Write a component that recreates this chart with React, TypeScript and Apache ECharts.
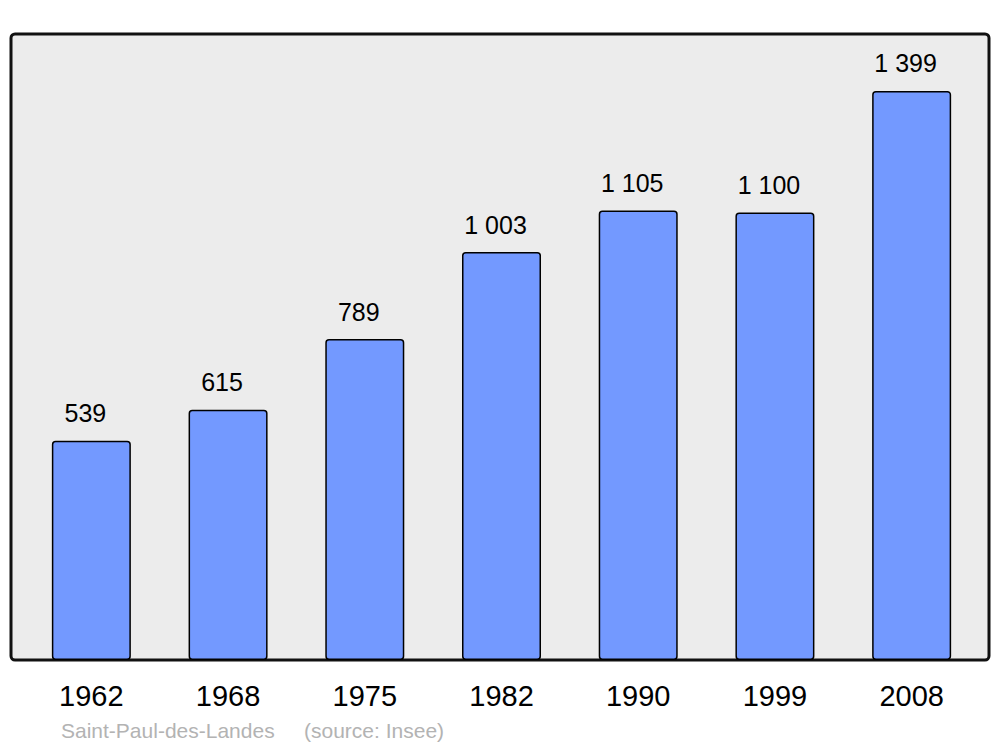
import React, { useEffect, useRef } from "react";
import * as echarts from "echarts";

const years = ["1962", "1968", "1975", "1982", "1990", "1999", "2008"];
const population = [539, 615, 789, 1003, 1105, 1100, 1399];
const commune = "Saint-Paul-des-Landes";
const source = "(source: Insee)";

const fmt = (v: number) => {
  const s = String(v);
  return s.length > 3 ? s.slice(0, s.length - 3) + " " + s.slice(-3) : s;
};

export default function App() {
  const ref = useRef<HTMLDivElement>(null);
  useEffect(() => {
    const chart = echarts.init(ref.current!, null, { renderer: "svg" });
    chart.setOption({
      animation: false,
      backgroundColor: "#ffffff",
      textStyle: { fontFamily: "Liberation Sans, Arial, sans-serif" },
      graphic: [
        {
          type: "rect",
          z: 0,
          shape: { x: 11, y: 34, width: 978, height: 626, r: 4 },
          style: { fill: "#ececec", stroke: "#111111", lineWidth: 3 },
        },
        {
          type: "text",
          x: 61,
          y: 730,
          style: {
            text: commune,
            fill: "#b3b3b3",
            font: "21px Liberation Sans, Arial, sans-serif",
            verticalAlign: "middle",
          },
        },
        {
          type: "text",
          x: 304,
          y: 730,
          style: {
            text: source,
            fill: "#b3b3b3",
            font: "21px Liberation Sans, Arial, sans-serif",
            verticalAlign: "middle",
          },
        },
      ],
      grid: { left: 23, right: 20, top: 34, bottom: 87, containLabel: false },
      xAxis: {
        type: "category",
        data: years,
        axisLine: { show: false },
        axisTick: { show: false },
        axisLabel: {
          color: "#000",
          fontSize: 29,
          margin: 21,
          fontFamily: "Liberation Sans, Arial, sans-serif",
        },
      },
      yAxis: {
        type: "value",
        min: 0,
        max: 1539,
        show: false,
        splitLine: { show: false },
      },
      series: [
        {
          type: "bar",
          data: population,
          barWidth: 79,
          z: 2,
          itemStyle: {
            color: "#7399ff",
            borderColor: "#000",
            borderWidth: 1.5,
            borderRadius: 3,
          },
          label: {
            show: true,
            position: "top",
            distance: 15,
            offset: [-6, 0],
            color: "#000",
            fontSize: 25,
            fontFamily: "Liberation Sans, Arial, sans-serif",
            formatter: (p: any) => fmt(p.value),
          },
        },
      ],
    });
    return () => chart.dispose();
  }, []);
  return (
    <div
      ref={ref}
      style={{ position: "fixed", left: 0, top: 0, width: 1000, height: 747 }}
    />
  );
}
